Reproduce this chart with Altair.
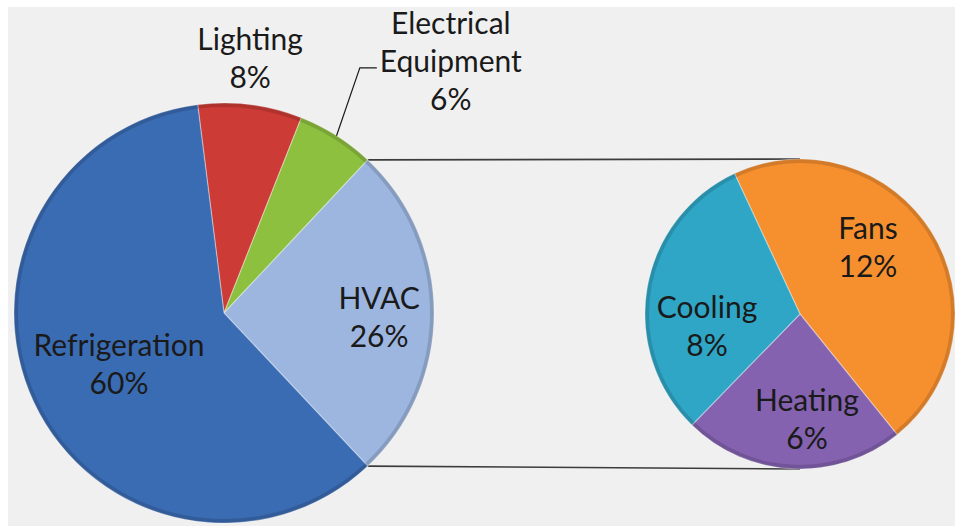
import math

import altair as alt
import pandas as pd

# Energy use by end use (main pie) and the HVAC breakdown (secondary pie)
main_names = ["Lighting", "Electrical Equipment", "HVAC", "Refrigeration"]
main_text = ["Lighting", "Electrical\nEquipment", "HVAC", "Refrigeration"]
main_values = [8, 6, 26, 60]
main_colors = ["#cc3b35", "#8dc03f", "#9db6df", "#3a6cb3"]

hvac_names = ["Fans", "Heating", "Cooling"]
hvac_text = ["Fans", "Heating", "Cooling"]
hvac_values = [12, 6, 8]
hvac_colors = ["#f6902f", "#8462b0", "#2fa6c6"]

SPLIT = "HVAC"

# Layout (view coordinates, pixels)
MAIN = {"cx": 216, "cy": 306, "r": 210}
SEC = {"cx": 792, "cy": 307, "r": 155}
SEC_START_DEG = -25
FONT_SIZE = 30
LINE_HEIGHT = 38

# label placement: (fraction of radius, angular shift from slice middle in degrees)
LABEL_POS = {
    "Lighting": (1.211, -1.3),
    "Electrical Equipment": (1.608, 9.8),
    "HVAC": (0.739, 2.2),
    "Refrigeration": (0.56, -1.6),
    "Fans": (0.607, -11.8),
    "Heating": (0.695, -6.4),
    "Cooling": (0.606, -17.9),
}
OUTSIDE_LEADER = "Electrical Equipment"


def polar(pie, ang_deg, frac=1.0):
    a = math.radians(ang_deg)
    return (pie["cx"] + frac * pie["r"] * math.sin(a),
            pie["cy"] - frac * pie["r"] * math.cos(a))


def slices(pie, names, texts, values, colors, start_deg):
    total = sum(values)
    rows = []
    a = start_deg
    for n, t, v, c in zip(names, texts, values, colors):
        span = 360.0 * v / total
        rows.append({"name": n, "label": f"{t}\n{v}%", "color": c,
                     "a0": a, "a1": a + span, "mid": a + span / 2,
                     "cx": pie["cx"], "cy": pie["cy"], "r": pie["r"]})
        a += span
    return rows


# main pie is rotated so the split slice faces the secondary pie
before = sum(main_values[:main_names.index(SPLIT)])
split_share = main_values[main_names.index(SPLIT)]
main_start = 90 - 360.0 * (before + split_share / 2) / sum(main_values)

rows = (slices(MAIN, main_names, main_text, main_values, main_colors, main_start)
        + slices(SEC, hvac_names, hvac_text, hvac_values, hvac_colors, SEC_START_DEG))
pies = pd.DataFrame(rows)
pies["t0"] = pies["a0"].map(math.radians)
pies["t1"] = pies["a1"].map(math.radians)

# label block centres; the first text line is shifted up so the block is centred
label_xy = []
for row in rows:
    frac, shift = LABEL_POS[row["name"]]
    pie = MAIN if row["name"] in main_names else SEC
    label_xy.append(polar(pie, row["mid"] + shift, frac))
pies["lx"] = [p[0] for p in label_xy]
pies["ly"] = [p[1] for p in label_xy]
n_lines = pies["label"].str.count("\n") + 1
pies["ly_first"] = pies["ly"] - (n_lines - 1) * LINE_HEIGHT / 2

# connector lines from the split slice edges to the top/bottom of the secondary pie
split_row = next(r for r in rows if r["name"] == SPLIT)
p_top = polar(MAIN, split_row["a0"])
p_bot = polar(MAIN, split_row["a1"])
connectors = pd.DataFrame([
    {"x": p_top[0], "y": p_top[1], "x2": SEC["cx"], "y2": SEC["cy"] - SEC["r"]},
    {"x": p_bot[0], "y": p_bot[1], "x2": SEC["cx"], "y2": SEC["cy"] + SEC["r"]},
])

# leader line for the outside label
lead_row = next(r for r in rows if r["name"] == OUTSIDE_LEADER)
lead_lbl = pies.loc[pies["name"] == OUTSIDE_LEADER, ["lx", "ly"]].iloc[0]
l0 = polar(MAIN, lead_row["mid"])
leader = pd.DataFrame([
    {"i": 0, "x": l0[0], "y": l0[1]},
    {"i": 1, "x": lead_lbl["lx"] - 91, "y": lead_lbl["ly"] + 5},
    {"i": 2, "x": lead_lbl["lx"] - 74, "y": lead_lbl["ly"] + 5},
])

# darker rim ring around each pie
rims = pd.DataFrame([MAIN, SEC])
rims["r_in"] = rims["r"] - 4

px = dict(scale=None, axis=None)

rules = alt.Chart(connectors).mark_rule(color="#3c3c3c", strokeWidth=1.6).encode(
    x=alt.X("x:Q", **px), y=alt.Y("y:Q", **px),
    x2="x2:Q", y2="y2:Q",
)

arcs = alt.Chart(pies).mark_arc(
    stroke="#ffffff", strokeOpacity=0.35, strokeWidth=1.2
).encode(
    x=alt.X("cx:Q", **px), y=alt.Y("cy:Q", **px),
    radius=alt.Radius("r:Q", scale=None),
    theta=alt.Theta("t0:Q", scale=None, stack=False),
    theta2="t1:Q",
    fill=alt.Fill("color:N", scale=None),
)

rim = alt.Chart(rims).mark_arc(
    theta=0, theta2=2 * math.pi, fill="#000000", fillOpacity=0.14,
).encode(
    x=alt.X("cx:Q", **px), y=alt.Y("cy:Q", **px),
    radius=alt.Radius("r:Q", scale=None),
    radius2="r_in:Q",
)

lead = alt.Chart(leader).mark_line(color="#1a1a1a", strokeWidth=1.2).encode(
    x=alt.X("x:Q", **px), y=alt.Y("y:Q", **px), order="i:O",
)

labels = alt.Chart(pies).mark_text(
    font="Lato", fontSize=FONT_SIZE, lineBreak="\n", lineHeight=LINE_HEIGHT,
    align="center", baseline="middle", color="#1a1a1a",
).encode(
    x=alt.X("lx:Q", **px), y=alt.Y("ly_first:Q", **px), text="label:N",
)

chart = alt.layer(rules, arcs, rim, lead, labels).properties(
    width=947, height=519,
    padding={"left": 8, "top": 7, "right": 0, "bottom": 0},
    autosize="none", background="#ffffff",
).configure_view(fill="#f0f0f0", strokeWidth=0)

chart.save("out.html", embed_options={"renderer": "svg", "actions": False})
